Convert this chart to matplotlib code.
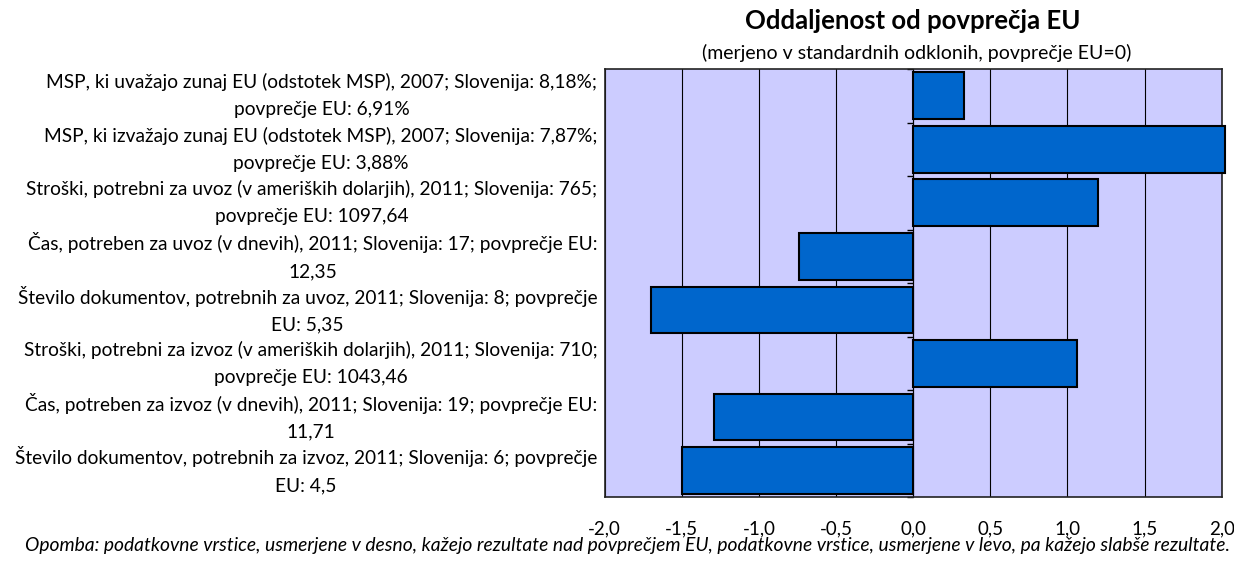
import matplotlib
matplotlib.use("Agg")
import matplotlib.pyplot as plt
import numpy as np

# kazalniki (od zgoraj navzdol)
labels = [
    "MSP, ki uvažajo zunaj EU (odstotek MSP), 2007; Slovenija: 8,18%;\npovprečje EU: 6,91%",
    "MSP, ki izvažajo zunaj EU (odstotek MSP), 2007; Slovenija: 7,87%;\npovprečje EU: 3,88%",
    "Stroški, potrebni za uvoz (v ameriških dolarjih), 2011; Slovenija: 765;\npovprečje EU: 1097,64",
    "Čas, potreben za uvoz (v dnevih), 2011; Slovenija: 17; povprečje EU:\n12,35",
    "Število dokumentov, potrebnih za uvoz, 2011; Slovenija: 8; povprečje\nEU: 5,35",
    "Stroški, potrebni za izvoz (v ameriških dolarjih), 2011; Slovenija: 710;\npovprečje EU: 1043,46",
    "Čas, potreben za izvoz (v dnevih), 2011; Slovenija: 19; povprečje EU:\n11,71",
    "Število dokumentov, potrebnih za izvoz, 2011; Slovenija: 6; povprečje\nEU: 4,5",
]
values = [0.33, 2.02, 1.20, -0.74, -1.70, 1.06, -1.29, -1.50]
xticks = [-2.0, -1.5, -1.0, -0.5, 0.0, 0.5, 1.0, 1.5, 2.0]

plt.rcParams["font.family"] = ["Lato", "DejaVu Sans"]

fig = plt.figure(figsize=(12.34, 5.61), dpi=100)
ax = fig.add_axes([0.490, 0.114, 0.500, 0.763])
ax.set_facecolor("#ccccff")

y = np.arange(len(labels))
ax.barh(y, values, height=0.87, color="#0066cc", edgecolor="black",
        linewidth=1.5, zorder=3, clip_on=False)

ax.set_xlim(-2, 2)
ax.set_ylim(len(labels) - 0.5, -0.5)
ax.set_xticks(xticks)
ax.set_xticklabels([f"{t:.1f}".replace(".", ",") for t in xticks], fontsize=13.5)
ax.tick_params(axis="x", length=0, pad=17)
ax.grid(axis="x", color="black", linewidth=0.8, zorder=1)

# oznake kategorij: sredinsko poravnane vrstice, desno ob osi
ax.set_yticks(y)
ax.set_yticklabels([])
ax.tick_params(axis="y", length=0)
for yi, lab in zip(y, labels):
    ax.text(-0.012, yi, lab, transform=ax.get_yaxis_transform(),
            ha="right", va="center", multialignment="center",
            fontsize=13.8, linespacing=1.7)

for s in ax.spines.values():
    s.set_linewidth(1.2)
    s.set_color("#222222")

# os y na ničli s kratkimi oznakami med kategorijami
sec = ax.secondary_yaxis(0.5)
sec.set_yticks(np.arange(len(labels) + 1) - 0.5)
sec.set_yticklabels([])
sec.tick_params(axis="y", length=4, width=1, direction="in")
sec.spines["left"].set_linewidth(1.2)

fig.text(0.740, 0.962, "Oddaljenost od povprečja EU", ha="center", va="center",
         fontsize=18.5, fontweight="bold")
fig.text(0.743, 0.906, "(merjeno v standardnih odklonih, povprečje EU=0)",
         ha="center", va="center", fontsize=14)
fig.text(0.997, 0.028,
         "Opomba: podatkovne vrstice, usmerjene v desno, kažejo rezultate nad povprečjem EU, "
         "podatkovne vrstice, usmerjene v levo, pa kažejo slabše rezultate.",
         ha="right", va="center", fontsize=13.9, style="italic")

fig.savefig("out.png", dpi=100)
